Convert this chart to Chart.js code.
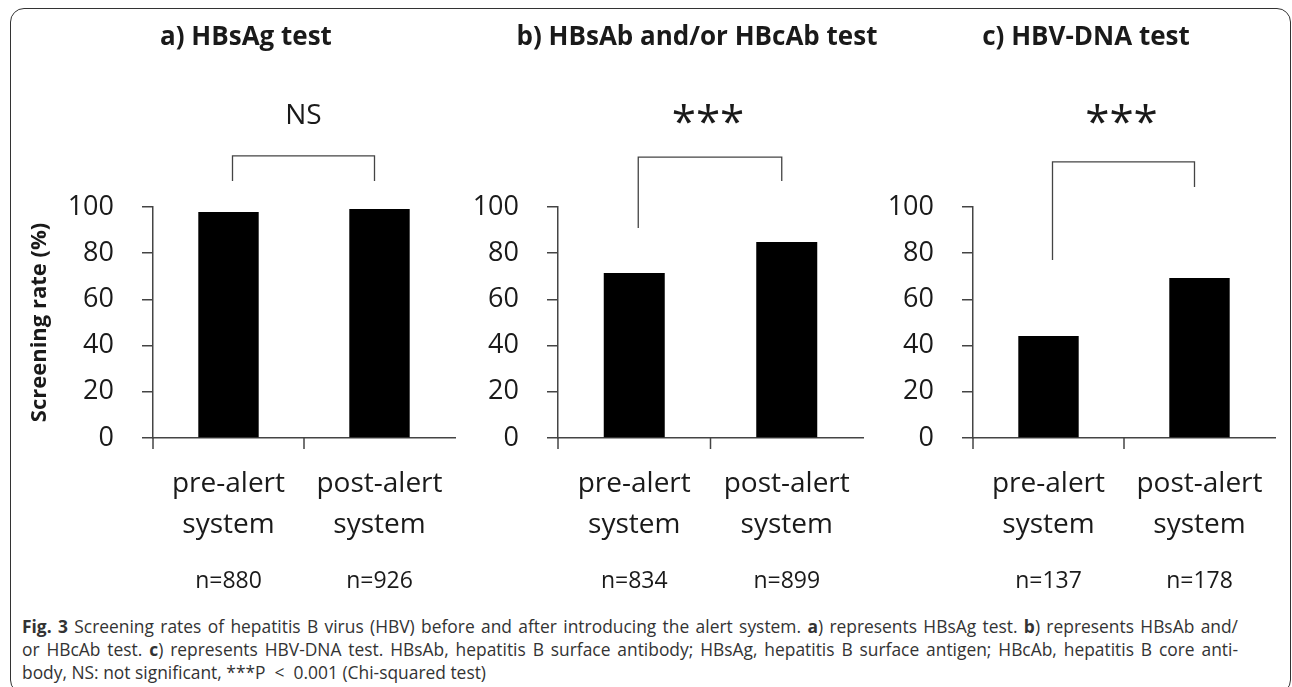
<!DOCTYPE html>
<html>
<head>
<meta charset="utf-8">
<script src="https://cdn.jsdelivr.net/npm/chart.js@4.4.1/dist/chart.umd.min.js"></script>
<style>
    html, body { margin: 0; padding: 0; background: #fff; }
    body { width: 1292px; height: 687px; position: relative; overflow: hidden; font-family: "Open Sans", sans-serif; }
    .frame { position: absolute; left: 10px; top: 8px; width: 1281px; height: 686px; border: 1.5px solid #333; border-radius: 14px; box-sizing: border-box; }
    canvas.panel { position: absolute; top: 0; }
    #caption { position: absolute; left: 22px; top: 615px; width: 1216px; font-size: 17.4px; color: #333; line-height: 23px; }
    #caption .j { text-align: justify; text-align-last: justify; }
    #caption b { font-weight: 700; }
</style>
</head>
<body>
<div class="frame"></div>
<canvas id="chartA" class="panel" width="472" height="600" style="left:10px"></canvas>
<canvas id="chartB" class="panel" width="454" height="600" style="left:470px"></canvas>
<canvas id="chartC" class="panel" width="412" height="600" style="left:880px"></canvas>
<div id="caption">
    <div class="j"><b>Fig. 3</b> Screening rates of hepatitis B virus (HBV) before and after introducing the alert system. <b>a</b>) represents HBsAg test. <b>b</b>) represents HBsAb and/</div>
    <div class="j">or HBcAb test. <b>c</b>) represents HBV-DNA test. HBsAb, hepatitis B surface antibody; HBsAg, hepatitis B surface antigen; HBcAb, hepatitis B core anti-</div>
    <div>body, NS: not significant, ***P &nbsp;&lt;&nbsp; 0.001 (Chi-squared test)</div>
</div>
<script>
const categories = [['pre-alert', 'system'], ['post-alert', 'system']];
const yTicks = [0, 20, 40, 60, 80, 100];
const panelTitles = ['a) HBsAg test', 'b) HBsAb and/or HBcAb test', 'c) HBV-DNA test'];
const hbsagRates = [97.8, 99.1];
const antibodyRates = [71.4, 84.8];
const dnaRates = [44.2, 69.3];
const hbsagN = ['n=880', 'n=926'];
const antibodyN = ['n=834', 'n=899'];
const dnaN = ['n=137', 'n=178'];
const significance = ['NS', '***', '***'];

const axisColor = '#444';
const textColor = '#1a1a1a';

// layout of each panel (pixels / value levels for the bracket)
const panels = [
    { id: 'chartA', rates: hbsagRates, n: hbsagN, axisW: 143, padR: 27, yTitle: 'Screening rate (%)',
      bracket: { top: 122.1, left: 111.3, right: 111.3, label: 139.5 } },
    { id: 'chartB', rates: antibodyRates, n: antibodyN, axisW: 88, padR: 61, yTitle: '',
      bracket: { top: 121.6, left: 90.9, right: 111.3, label: 139.5 } },
    { id: 'chartC', rates: dnaRates, n: dnaN, axisW: 93, padR: 17, yTitle: '',
      bracket: { top: 119.5, left: 77.1, right: 108.7, label: 139.5 } }
];

const extras = {
    id: 'extras',
    afterDraw(chart) {
        const p = chart.options.plugins.extras;
        const ctx = chart.ctx;
        const x = chart.scales.x;
        const y = chart.scales.y;
        ctx.save();

        // panel title
        ctx.fillStyle = textColor;
        ctx.font = 'bold 26px "Open Sans"';
        ctx.textAlign = 'center';
        ctx.textBaseline = 'middle';
        ctx.fillText(p.title, chart.width / 2, 38);

        // category ticks below the axis
        ctx.strokeStyle = axisColor;
        ctx.lineWidth = 1.5;
        const x0 = x.getPixelForValue(0);
        const x1 = x.getPixelForValue(1);
        [x.left, (x0 + x1) / 2].forEach(px => {
            ctx.beginPath();
            ctx.moveTo(px, y.bottom);
            ctx.lineTo(px, y.bottom + 11);
            ctx.stroke();
        });

        // n labels
        ctx.font = '23px "Open Sans"';
        p.n.forEach((t, i) => ctx.fillText(t, x.getPixelForValue(i), 581));

        // bracket
        const b = p.bracket;
        const bl = x0 + 4;
        const br = x1 - 5;
        ctx.lineWidth = 1.3;
        ctx.beginPath();
        ctx.moveTo(bl, y.getPixelForValue(b.left));
        ctx.lineTo(bl, y.getPixelForValue(b.top));
        ctx.lineTo(br, y.getPixelForValue(b.top));
        ctx.lineTo(br, y.getPixelForValue(b.right));
        ctx.stroke();

        // significance mark
        if (p.sig === 'NS') {
            ctx.font = '28px "Open Sans"';
            ctx.fillText(p.sig, (bl + br) / 2, y.getPixelForValue(b.label));
        } else {
            ctx.font = '44px "Open Sans"';
            ctx.textBaseline = 'alphabetic';
            ctx.fillText(p.sig, (bl + br) / 2 - 2, y.getPixelForValue(b.label) + 21);
        }
        ctx.restore();
    }
};

panels.forEach((cfg, k) => {
    new Chart(document.getElementById(cfg.id), {
        type: 'bar',
        data: {
            labels: categories,
            datasets: [{
                data: cfg.rates,
                backgroundColor: '#000',
                borderWidth: 0,
                categoryPercentage: 1.0,
                barPercentage: 0.4
            }]
        },
        options: {
            responsive: false,
            animation: false,
            layout: { padding: { top: 207, right: cfg.padR, left: 0, bottom: 0 } },
            scales: {
                y: {
                    min: 0,
                    max: 100,
                    afterBuildTicks: s => { s.ticks = yTicks.map(v => ({ value: v })); },
                    afterFit: s => { s.width = cfg.axisW; },
                    grid: { drawOnChartArea: false, drawTicks: true, tickLength: 11, color: axisColor, lineWidth: 1.5 },
                    border: { display: true, color: axisColor, width: 1.5 },
                    ticks: { color: textColor, padding: 28, font: { family: 'Open Sans', size: 27 } },
                    title: {
                        display: cfg.yTitle !== '',
                        text: cfg.yTitle,
                        color: textColor,
                        font: { family: 'Open Sans', size: 22, weight: 'bold' },
                        padding: { top: 17, bottom: 0 }
                    }
                },
                x: {
                    afterFit: s => { s.height = 162; },
                    grid: { display: false },
                    border: { display: true, color: axisColor, width: 1.5 },
                    ticks: { color: textColor, padding: 18, font: { family: 'Open Sans', size: 28, lineHeight: 1.46 } }
                }
            },
            plugins: {
                legend: { display: false },
                tooltip: { enabled: false },
                extras: { title: panelTitles[k], n: cfg.n, sig: significance[k], bracket: cfg.bracket }
            }
        },
        plugins: [extras]
    });
});
</script>
</body>
</html>
